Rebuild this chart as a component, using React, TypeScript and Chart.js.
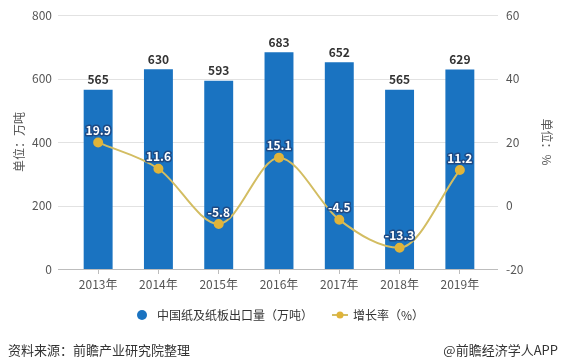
import React, { useEffect, useRef } from "react";
import { Chart, registerables } from "chart.js";
Chart.register(...registerables);

const categories = ["2013年", "2014年", "2015年", "2016年", "2017年", "2018年", "2019年"];
const exportVolume = [565, 630, 593, 683, 652, 565, 629];
const growthRate = [19.9, 11.6, -5.8, 15.1, -4.5, -13.3, 11.2];
const barLegend = "中国纸及纸板出口量（万吨）";
const lineLegend = "增长率（%）";
const leftTitle = "单位：万吨";
const rightTitle = "单位：%";
const sourceText = "资料来源：前瞻产业研究院整理";
const brandText = "@前瞻经济学人APP";

const FONT = '"Noto Sans CJK SC", "Noto Sans", sans-serif';
const BAR = "#1a73c1";
const LINE = "#d3bd62";
const POINT = "#e0b43a";

const decor = {
  id: "decor",
  beforeDatasetsDraw(chart: any) {
    const { ctx, chartArea, scales } = chart;
    const y = scales.y;
    ctx.save();
    y.ticks.forEach((t: any) => {
      const py = Math.round(y.getPixelForValue(t.value)) + 0.5;
      ctx.strokeStyle = t.value === 0 ? "#bdbdbd" : "#e2e2e2";
      ctx.lineWidth = 1;
      ctx.beginPath();
      ctx.moveTo(chartArea.left - 10, py);
      ctx.lineTo(chartArea.right + 8, py);
      ctx.stroke();
    });
    ctx.restore();
  },
  afterDatasetsDraw(chart: any) {
    const { ctx } = chart;
    ctx.save();
    ctx.textAlign = "center";
    ctx.textBaseline = "middle";
    const barMeta = chart.getDatasetMeta(1);
    ctx.font = "bold 12px " + FONT;
    ctx.fillStyle = "#333";
    barMeta.data.forEach((el: any, i: number) => {
      ctx.fillText(String(exportVolume[i]), el.x, el.y - 10);
    });
    const lineMeta = chart.getDatasetMeta(0);
    ctx.font = "bold 12px " + FONT;
    ctx.lineJoin = "round";
    lineMeta.data.forEach((el: any, i: number) => {
      const s = growthRate[i].toFixed(1);
      ctx.strokeStyle = "#1d4a85";
      ctx.lineWidth = 3;
      ctx.strokeText(s, el.x, el.y - 12);
      ctx.fillStyle = "#ffffff";
      ctx.fillText(s, el.x, el.y - 12);
    });
    ctx.restore();
  },
  afterDraw(chart: any) {
    const { ctx } = chart;
    ctx.save();
    ctx.textBaseline = "middle";
    ctx.fillStyle = BAR;
    ctx.beginPath();
    ctx.arc(142, 315, 5, 0, Math.PI * 2);
    ctx.fill();
    ctx.font = "12px " + FONT;
    ctx.fillStyle = "#333";
    ctx.textAlign = "left";
    ctx.fillText(barLegend, 157, 315);
    ctx.strokeStyle = LINE;
    ctx.lineWidth = 2;
    ctx.beginPath();
    ctx.moveTo(332, 315);
    ctx.lineTo(348, 315);
    ctx.stroke();
    ctx.fillStyle = POINT;
    ctx.beginPath();
    ctx.arc(340, 315, 3.5, 0, Math.PI * 2);
    ctx.fill();
    ctx.fillStyle = "#333";
    ctx.fillText(lineLegend, 353, 315);
    ctx.font = "13px " + FONT;
    ctx.fillStyle = "#333";
    ctx.fillText(sourceText, 8, 350);
    ctx.textAlign = "right";
    ctx.fillText(brandText, 558, 350);
    ctx.restore();
  },
};

export default function App() {
  const ref = useRef<HTMLCanvasElement | null>(null);
  useEffect(() => {
    if (!ref.current) return;
    const chart = new Chart(ref.current, {
      type: "bar",
      data: {
        labels: categories,
        datasets: [
          {
            type: "line",
            label: lineLegend,
            data: growthRate,
            yAxisID: "y1",
            borderColor: LINE,
            borderWidth: 2,
            backgroundColor: POINT,
            pointBackgroundColor: POINT,
            pointBorderColor: POINT,
            pointRadius: 4,
            cubicInterpolationMode: "monotone",
            order: 0,
          } as any,
          {
            type: "bar",
            label: barLegend,
            data: exportVolume,
            yAxisID: "y",
            backgroundColor: BAR,
            barPercentage: 1,
            categoryPercentage: 0.48,
            order: 1,
          },
        ],
      },
      options: {
        animation: false,
        responsive: false,
        devicePixelRatio: 1,
        layout: { padding: { top: 10, left: 0, right: 0, bottom: 0 } },
        plugins: { legend: { display: false }, tooltip: { enabled: false } },
        scales: {
          x: {
            grid: { display: true, drawOnChartArea: false, drawTicks: true, tickLength: 5, offset: false, color: "#bdbdbd" },
            border: { display: false },
            ticks: { color: "#555", font: { size: 12, family: FONT }, padding: 3 },
            afterFit: (s: any) => { s.height = 90; },
          },
          y: {
            position: "left",
            min: 0,
            max: 800,
            ticks: { stepSize: 200, color: "#555", font: { size: 12, family: FONT }, padding: 8 },
            grid: { display: false },
            border: { display: false },
            title: { display: true, text: leftTitle, color: "#555", font: { size: 12, family: FONT }, padding: { top: 12, bottom: 0 } },
            afterFit: (s: any) => { s.width = 68; },
          },
          y1: {
            position: "right",
            min: -20,
            max: 60,
            ticks: { stepSize: 20, color: "#555", font: { size: 12, family: FONT }, padding: 8 },
            grid: { display: false },
            border: { display: false },
            title: { display: true, text: rightTitle, color: "#555", font: { size: 12, family: FONT }, padding: { top: 10, bottom: 0 } },
            afterFit: (s: any) => { s.width = 74; },
          },
        },
      },
      plugins: [decor],
    });
    return () => chart.destroy();
  }, []);
  return (
    <div style={{ position: "absolute", left: 0, top: 0, width: 564, height: 359, background: "#fff" }}>
      <canvas ref={ref} width={564} height={359} style={{ display: "block" }} />
    </div>
  );
}
